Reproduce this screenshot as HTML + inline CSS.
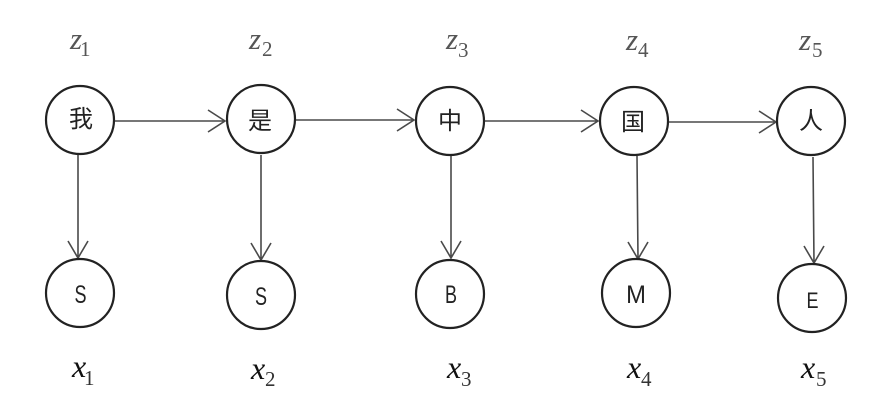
<!DOCTYPE html>
<html>
<head>
<meta charset="utf-8">
<style>
html,body{margin:0;padding:0;background:#fff;width:894px;height:408px;overflow:hidden}
svg{display:block}
.n{fill:#fff;stroke:#222;stroke-width:2.2}
.l{fill:none;stroke:#4a4a4a;stroke-width:1.6}
.c{font-family:"Noto Sans CJK SC","WenQuanYi Zen Hei",sans-serif;font-size:24px;font-weight:400;fill:#222;text-anchor:middle}
.t{font-family:"Liberation Sans","DejaVu Sans",sans-serif;font-size:25px;fill:#222;text-anchor:middle}
.z{font-family:"Liberation Serif",serif;font-style:italic;font-size:31px;fill:#555}
.x{font-family:"Liberation Serif",serif;font-style:italic;font-size:32px;fill:#111}
.zs{font-family:"Liberation Serif",serif;font-size:21px;fill:#555}
.xs{font-family:"Liberation Serif",serif;font-size:21px;fill:#333}
</style>
</head>
<body>
<svg width="894" height="408" viewBox="0 0 894 408" xmlns="http://www.w3.org/2000/svg">
<!-- horizontal connectors -->
<path class="l" d="M115 121H225M208 110L225 121L208 132"/>
<path class="l" d="M295 120H414M397 109L414 120L397 131"/>
<path class="l" d="M484 121H598M581 110L598 121L581 132"/>
<path class="l" d="M668 122H776M759 111L776 122L759 133"/>
<!-- vertical connectors -->
<path class="l" d="M78 155V258M68 241L78 258L88 241"/>
<path class="l" d="M261 155V260M251 243L261 260L271 243"/>
<path class="l" d="M451 156V258M441 241L451 258L461 241"/>
<path class="l" d="M637 156L638 259M628 242L638 259L648 242"/>
<path class="l" d="M813 157L814 263M804 246L814 263L824 246"/>
<!-- top nodes -->
<circle class="n" cx="80" cy="120" r="34"/>
<circle class="n" cx="261" cy="119" r="34"/>
<circle class="n" cx="450" cy="121" r="34"/>
<circle class="n" cx="634" cy="121" r="34"/>
<circle class="n" cx="811" cy="121" r="34"/>
<!-- bottom nodes -->
<circle class="n" cx="80" cy="293" r="34"/>
<circle class="n" cx="261" cy="295" r="34"/>
<circle class="n" cx="450" cy="294" r="34"/>
<circle class="n" cx="636" cy="293" r="34"/>
<circle class="n" cx="812" cy="298" r="34"/>
<!-- node labels -->
<text class="c" x="81" y="127">我</text>
<text class="c" x="260" y="129">是</text>
<text class="c" x="450" y="129">中</text>
<text class="c" x="633" y="130">国</text>
<text class="c" x="811" y="129">人</text>
<text class="t" transform="translate(80.5,303) scale(.72,1)">S</text>
<text class="t" transform="translate(261,305) scale(.72,1)">S</text>
<text class="t" transform="translate(451,303) scale(.72,1)">B</text>
<text class="t" transform="translate(636,303) scale(.95,1)">M</text>
<text class="t" transform="translate(812.5,308) scale(.72,.9)">E</text>
<!-- z labels -->
<text class="z" x="70" y="49">z</text><text class="zs" x="80" y="56">1</text>
<text class="z" x="249" y="49">z</text><text class="zs" x="262" y="56">2</text>
<text class="z" x="446" y="49">z</text><text class="zs" x="458" y="57">3</text>
<text class="z" x="626" y="50">z</text><text class="zs" x="638" y="57">4</text>
<text class="z" x="799" y="50">z</text><text class="zs" x="812" y="57">5</text>
<!-- x labels -->
<text class="x" x="72" y="377">x</text><text class="xs" x="84" y="385">1</text>
<text class="x" x="251" y="379">x</text><text class="xs" x="265" y="386">2</text>
<text class="x" x="447" y="378">x</text><text class="xs" x="461" y="386">3</text>
<text class="x" x="627" y="378">x</text><text class="xs" x="641" y="386">4</text>
<text class="x" x="801" y="378">x</text><text class="xs" x="816" y="386">5</text>
</svg>
</body>
</html>
